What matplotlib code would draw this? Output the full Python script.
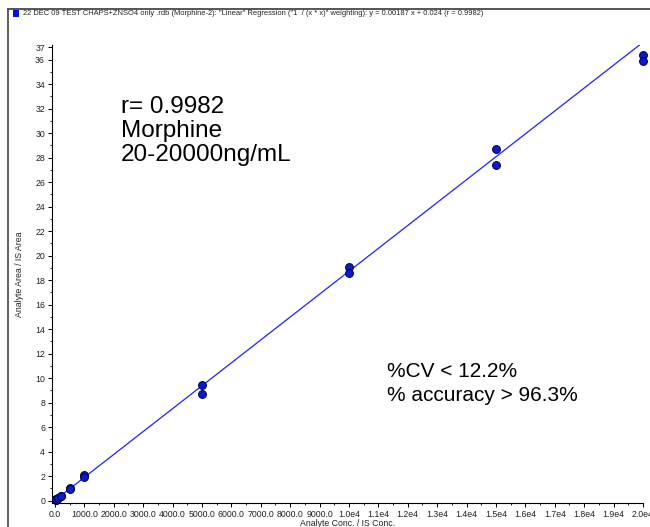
import matplotlib
matplotlib.use("Agg")
import matplotlib.pyplot as plt
from matplotlib.lines import Line2D
from matplotlib.patches import Rectangle
import numpy as np

conc = [20, 20, 50, 50, 100, 100, 200, 200, 500, 500, 1000, 1000,
        5000, 5000, 10000, 10000, 15000, 15000, 20000, 20000]
ratio = [0.05, 0.04, 0.10, 0.09, 0.20, 0.18, 0.40, 0.36, 1.00, 0.93, 2.10, 1.90,
         9.40, 8.70, 19.1, 18.6, 28.7, 27.4, 36.4, 35.9]
slope = 0.00187
intercept = 0.024
title = ('22 DEC 09 TEST CHAPS+ZNSO4 only .rdb (Morphine-2): "Linear" Regression ("1  / (x * x)" weighting): '
         'y = 0.00187 x + 0.024 (r = 0.9982)')
xticks = [0, 1000, 2000, 3000, 4000, 5000, 6000, 7000, 8000, 9000, 10000, 11000, 12000,
          13000, 14000, 15000, 16000, 17000, 18000, 19000, 20000]
xticklabels = ['0.0', '1000.0', '2000.0', '3000.0', '4000.0', '5000.0', '6000.0', '7000.0',
               '8000.0', '9000.0', '1.0e4', '1.1e4', '1.2e4', '1.3e4', '1.4e4', '1.5e4',
               '1.6e4', '1.7e4', '1.8e4', '1.9e4', '2.0e4']
yticks = list(range(0, 37, 2)) + [37]

narrow = ['Liberation Sans Narrow', 'Liberation Sans', 'DejaVu Sans']
plt.rcParams['font.family'] = ['Liberation Sans', 'DejaVu Sans']

fig = plt.figure(figsize=(6.5, 5.27), dpi=100)
ax = fig.add_axes([52/650, 1 - 503/527, (643-52)/650, (503-45)/527])

ax.set_xlim(-100, 20000)
ax.set_ylim(-0.2, 37.2)

xl = np.array([0, 20000])
ax.plot(xl, slope * xl + intercept, color='#2020ff', lw=0.9, zorder=2)
ax.scatter(conc, ratio, s=32, color='#0a1ad0', edgecolors='#000040', linewidths=0.7, zorder=3, clip_on=False)

for s in ['top', 'right']:
    ax.spines[s].set_visible(False)
for s in ['left', 'bottom']:
    ax.spines[s].set_color('black')
    ax.spines[s].set_linewidth(0.8)

ax.set_xticks(xticks)
ax.set_xticklabels(xticklabels, fontsize=6.3, family=narrow)
ax.set_xticks(np.arange(500, 20000, 1000), minor=True)
ax.set_yticks(yticks)
ax.set_yticklabels([str(v) for v in yticks], fontsize=6.3, family=narrow)
ax.set_yticks(np.arange(1, 37, 2), minor=True)
ax.tick_params(which='major', length=3, width=0.7, pad=2, color='black', labelcolor='#222222')
ax.tick_params(which='minor', length=1.5, width=0.6)

ax.set_xlabel('Analyte Conc. / IS Conc.', fontsize=6.3, family=narrow, color='#222222')
ax.xaxis.set_label_coords(0.5, -0.036)
ax.set_ylabel('Analyte Area / IS Area', fontsize=6.3, family=narrow, color='#222222')
ax.yaxis.set_label_coords(-0.058 + 6/591, 0.5)

ax.text(2250, 30.2, 'r= 0.9982\nMorphine\n20-20000ng/mL', fontsize=17.5, va='center', ha='left',
        linespacing=1.12, color='black')
ax.text(11300, 9.55, '%CV < 12.2%\n% accuracy > 96.3%', fontsize=15, va='center', ha='left',
        linespacing=1.3, color='black')

# frame
fig.add_artist(Line2D([8/650, 8/650], [0, 1 - 9/527], color='#444444', lw=1.2))
fig.add_artist(Line2D([8/650, 1], [1 - 9/527, 1 - 9/527], color='#555555', lw=1.4))
fig.add_artist(Rectangle((13/650, 1 - 17/527), 6/650, 7/527, facecolor='#0010e0', edgecolor='none'))
fig.text(23/650, 1 - 13.5/527, title, fontsize=5.4, family=narrow, va='center', ha='left', color='#222222')

fig.savefig('out.png', dpi=100)
